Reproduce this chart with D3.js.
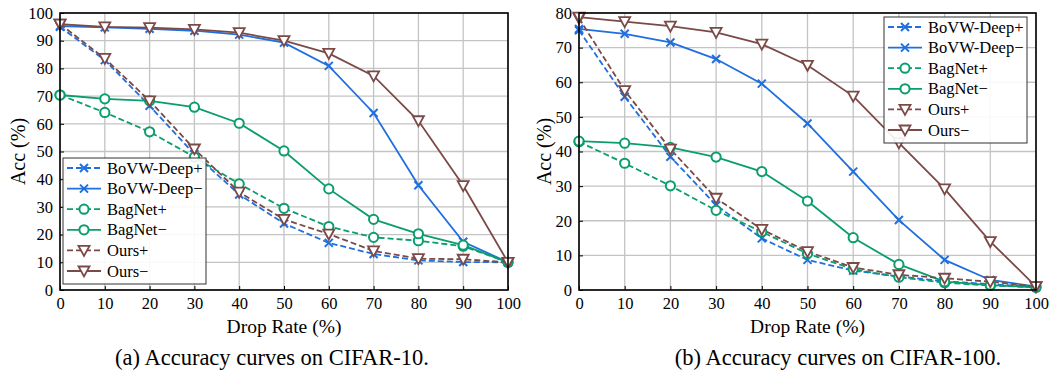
<!DOCTYPE html>
<html>
<head>
<meta charset="utf-8">
<script src="https://cdn.jsdelivr.net/npm/d3@7"></script>
<style>
  body { margin: 0; background: #fff; }
  svg text { font-family: "Liberation Serif", "DejaVu Serif", serif; fill: #000; }
</style>
</head>
<body>
<svg id="chart" width="1049" height="372"></svg>
<script>
const dropRates = [0, 10, 20, 30, 40, 50, 60, 70, 80, 90, 100];
const seriesNames = ["BoVW-Deep+", "BoVW-Deep\u2212", "BagNet+", "BagNet\u2212", "Ours+", "Ours\u2212"];

// CIFAR-10
const c10BovwPlus  = [95, 83, 66.5, 49, 34.5, 24, 17, 13, 10.7, 10.1, 10];
const c10BovwMinus = [95.3, 94.8, 94.3, 93.6, 92.2, 89.3, 80.9, 63.9, 37.8, 17.4, 10];
const c10BagPlus   = [70.4, 64.1, 57.1, 48, 38.3, 29.5, 22.9, 19, 17.8, 15.8, 10];
const c10BagMinus  = [70.4, 69, 68.3, 66, 60.2, 50.2, 36.5, 25.5, 20.3, 16.2, 10];
const c10OursPlus  = [96, 83.6, 68.3, 50.9, 35.3, 25.5, 20.2, 14.1, 11.3, 11.1, 10];
const c10OursMinus = [96, 95, 94.7, 94.1, 92.9, 90, 85.4, 77.3, 61.1, 37.7, 10];

// CIFAR-100
const c100BovwPlus  = [75, 55.8, 38.5, 24.5, 14.9, 8.7, 5.6, 3.9, 2.5, 1.7, 0.8];
const c100BovwMinus = [75.4, 74, 71.5, 66.7, 59.6, 48.1, 34.2, 20.2, 8.7, 2.9, 1];
const c100BagPlus   = [42.8, 36.6, 30.1, 23, 16.8, 10.5, 6, 3.7, 2.1, 1.3, 0.8];
const c100BagMinus  = [43, 42.4, 41.2, 38.4, 34.2, 25.7, 15.1, 7.4, 2.4, 1.4, 0.8];
const c100OursPlus  = [78.5, 57.6, 40.7, 26.5, 17.5, 11.1, 6.5, 4.4, 3.4, 2.4, 1];
const c100OursMinus = [78.8, 77.5, 76.2, 74.4, 71, 64.9, 56, 42.5, 29.2, 14, 1];

const xTicks = [0, 10, 20, 30, 40, 50, 60, 70, 80, 90, 100];
const yTicks10 = [0, 10, 20, 30, 40, 50, 60, 70, 80, 90, 100];
const yTicks100 = [0, 10, 20, 30, 40, 50, 60, 70, 80];

const serif = '"Liberation Serif", "DejaVu Serif", serif';
const blue = "#1f6fdf", green = "#0a9d6e", brown = "#7b4a47";
const styles = [
  { color: blue, dash: "6,3", marker: "x" },
  { color: blue, dash: null, marker: "x" },
  { color: green, dash: "6,3", marker: "o" },
  { color: green, dash: null, marker: "o" },
  { color: brown, dash: "6,3", marker: "v" },
  { color: brown, dash: null, marker: "v" }
];

const svg = d3.select("#chart");

function drawMarker(g, type, color) {
  if (type === "x") {
    g.append("path").attr("d", "M-4,-4L4,4M-4,4L4,-4")
      .attr("stroke", color).attr("stroke-width", 2).attr("fill", "none");
  } else if (type === "o") {
    g.append("circle").attr("r", 4.6)
      .attr("stroke", color).attr("stroke-width", 2).attr("fill", "#fff");
  } else {
    g.append("path").attr("d", "M-5.5,-4.5L5.5,-4.5L0,5.5Z")
      .attr("stroke", color).attr("stroke-width", 1.8).attr("fill", "#fff")
      .attr("stroke-linejoin", "miter");
  }
}

function label(g, size) {
  return g.append("text").style("font-family", serif).style("font-size", size + "px").attr("fill", "#000");
}

function panel(opts) {
  const { left, right, top, bottom, yMax, yTicks, series, legend, caption, captionX, yLabelX } = opts;
  const x = d3.scaleLinear().domain([0, 100]).range([left, right]);
  const y = d3.scaleLinear().domain([0, yMax]).range([bottom, top]);
  const g = svg.append("g");

  // grid
  g.append("g").selectAll("line").data(xTicks).enter().append("line")
    .attr("x1", d => x(d)).attr("x2", d => x(d)).attr("y1", top).attr("y2", bottom)
    .attr("stroke", "#c4c4c4").attr("stroke-width", 1.3);
  g.append("g").selectAll("line").data(yTicks).enter().append("line")
    .attr("y1", d => y(d)).attr("y2", d => y(d)).attr("x1", left).attr("x2", right)
    .attr("stroke", "#c4c4c4").attr("stroke-width", 1.3);

  // axes
  const xAxis = g.append("g").attr("transform", `translate(0,${bottom})`)
    .call(d3.axisBottom(x).tickValues(xTicks).tickSizeInner(-4).tickSizeOuter(0).tickPadding(7));
  const yAxis = g.append("g").attr("transform", `translate(${left},0)`)
    .call(d3.axisLeft(y).tickValues(yTicks).tickSizeInner(-4).tickSizeOuter(0).tickPadding(7));
  [xAxis, yAxis].forEach(a => {
    a.attr("font-family", null).attr("font-size", null);
    a.selectAll("text").style("font-family", serif).style("font-size", "16.5px").attr("fill", "#000");
    a.selectAll(".tick line").attr("stroke", "#000").attr("stroke-width", 1);
    a.select(".domain").remove();
  });

  // lines and markers
  const line = d3.line().x((d, i) => x(dropRates[i])).y(d => y(d));
  series.forEach((vals, k) => {
    const s = styles[k];
    g.append("path").datum(vals).attr("d", line)
      .attr("fill", "none").attr("stroke", s.color).attr("stroke-width", 1.8)
      .attr("stroke-dasharray", s.dash);
  });
  series.forEach((vals, k) => {
    const s = styles[k];
    vals.forEach((v, i) => {
      const m = g.append("g").attr("transform", `translate(${x(dropRates[i])},${y(v)})`);
      drawMarker(m, s.marker, s.color);
    });
  });

  // frame
  g.append("rect").attr("x", left).attr("y", top).attr("width", right - left).attr("height", bottom - top)
    .attr("fill", "none").attr("stroke", "#000").attr("stroke-width", 1.6);

  // legend
  const lg = g.append("g").attr("transform", `translate(${legend.x},${legend.y})`);
  lg.append("rect").attr("width", legend.w).attr("height", legend.h)
    .attr("fill", "#fff").attr("fill-opacity", 0.9).attr("stroke", "#333").attr("stroke-width", 1);
  seriesNames.forEach((name, k) => {
    const s = styles[k];
    const ry = 10 + k * 20.6;
    lg.append("line").attr("x1", 4).attr("x2", 38).attr("y1", ry).attr("y2", ry)
      .attr("stroke", s.color).attr("stroke-width", 1.8).attr("stroke-dasharray", s.dash);
    drawMarker(lg.append("g").attr("transform", `translate(21,${ry})`), s.marker, s.color);
    label(lg, 16.5).attr("x", 44).attr("y", ry + 5.5).text(name);
  });

  // labels
  label(g, 19.5).attr("x", (left + right) / 2).attr("y", 333).attr("text-anchor", "middle")
    .text("Drop Rate (%)");
  label(g, 20).attr("transform", `translate(${yLabelX},${(top + bottom) / 2}) rotate(-90)`)
    .attr("text-anchor", "middle").text("Acc (%)");
  label(g, 22.5).attr("x", captionX).attr("y", 365).attr("text-anchor", "middle")
    .text(caption);
}

panel({
  left: 60, right: 508, top: 13, bottom: 290, yMax: 100, yTicks: yTicks10,
  series: [c10BovwPlus, c10BovwMinus, c10BagPlus, c10BagMinus, c10OursPlus, c10OursMinus],
  legend: { x: 63, y: 158, w: 143, h: 126 },
  caption: "(a)  Accuracy curves on CIFAR-10.", captionX: 272, yLabelX: 25
});
panel({
  left: 579, right: 1036, top: 13, bottom: 290, yMax: 80, yTicks: yTicks100,
  series: [c100BovwPlus, c100BovwMinus, c100BagPlus, c100BagMinus, c100OursPlus, c100OursMinus],
  legend: { x: 884, y: 17, w: 143, h: 126 },
  caption: "(b)  Accuracy curves on CIFAR-100.", captionX: 838, yLabelX: 551
});
</script>
</body>
</html>
